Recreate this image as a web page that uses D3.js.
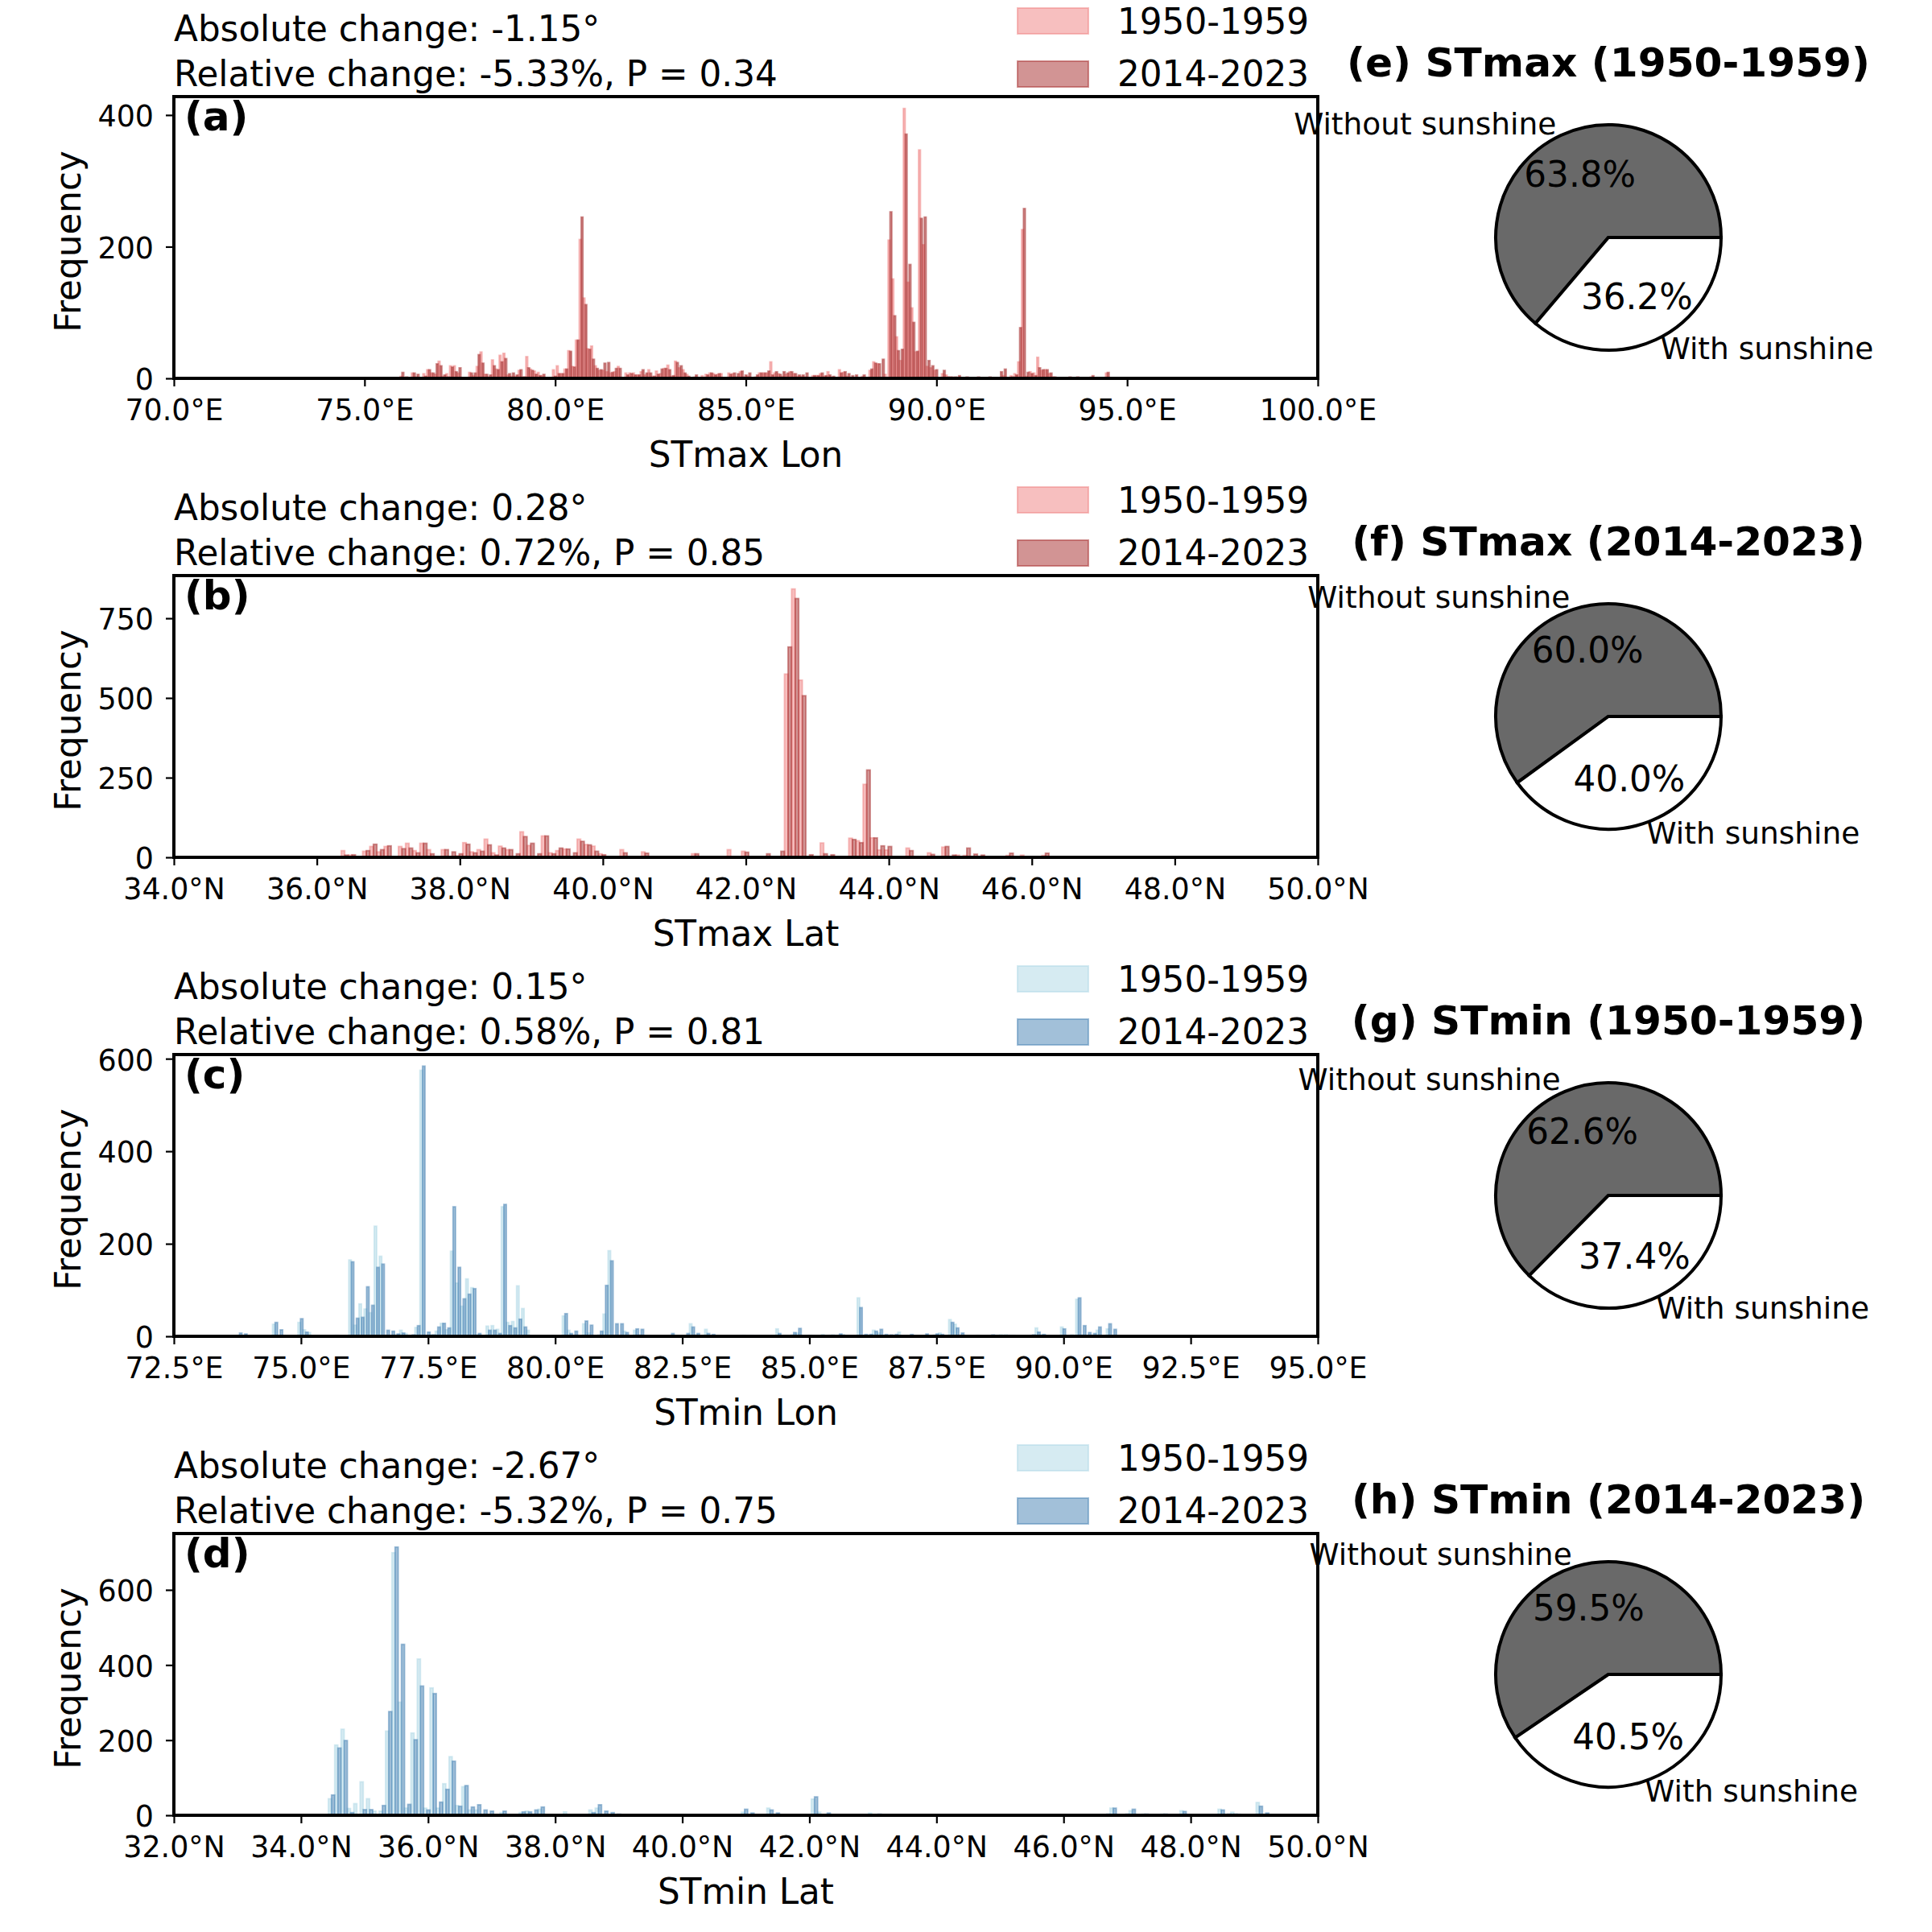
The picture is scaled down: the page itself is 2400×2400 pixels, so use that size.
<!DOCTYPE html>
<html>
<head>
<meta charset="utf-8">
<script src="https://cdn.jsdelivr.net/npm/d3@7"></script>
<style>
  html, body { margin: 0; padding: 0; background: #fff; }
  text { font-family: "DejaVu Sans"; fill: #000; }
</style>
</head>
<body>
<div id="chart"></div>
<script>
// histogram counts per 0.1 degree bin
const lonMaxStart = 75.93
const lonMax1950 = [3,0,0,8,2,0,7,13,8,6,26,3,7,19,19,8,0,0,9,4,18,40,6,2,28,14,35,38,5,3,3,12,2,33,14,11,9,4,1,0,
  13,19,7,14,42,18,58,211,122,45,49,19,12,12,10,8,10,18,0,8,8,8,5,10,5,13,3,11,7,15,20,3,26,16,13,6,0,2,0,4,
  6,8,7,6,7,0,8,7,2,10,2,3,0,2,8,8,8,25,8,7,3,6,10,7,3,3,2,0,4,4,7,3,10,2,0,13,9,3,0,0,0,3,0,12,25,22,0,6,210,151,
  63,27,410,146,107,40,347,203,18,16,12,0,7,5,2,0,0,0,0,0,0,0,0,0,0,0,0,0,4,0,4,7,25,226,3,10,8,32,12,13,
  7,2,0,0,0,0,0,0,0,0,0,2,0,0,0,8]
const lonMax2014 = [9,2,0,8,6,0,3,13,8,22,19,5,2,17,10,16,0,0,8,8,36,23,6,5,19,13,25,30,7,8,5,13,2,16,12,6,4,6,1,1,
  3,7,7,14,41,17,58,245,112,44,29,15,13,23,24,9,15,15,0,5,7,5,5,13,8,8,3,6,14,15,13,4,24,19,8,3,0,5,0,0,
  5,8,5,7,0,0,6,8,7,11,5,8,0,5,8,8,11,5,10,6,10,8,10,7,5,5,8,0,4,4,8,4,5,3,0,8,10,7,4,5,0,5,0,14,23,22,29,0,253,95,
  42,44,371,173,85,41,243,245,27,19,13,0,12,2,2,2,4,0,2,0,0,2,0,0,2,0,0,10,14,0,2,5,77,258,9,7,4,16,13,13,
  8,2,0,0,0,2,0,2,0,0,0,4,0,0,0,9]

const latMaxStart = 36.34
const latMax1950 = [21,7,2,19,34,17,34,0,34,44,21,44,24,0,24,2,5,46,17,24,57,14,35,24,3,80,37,2,67,14,21,26,2,57,40,35,11,0,0,24,
  0,2,17,0,0,2,0,0,0,11,0,0,0,0,24,0,19,0,0,2,0,0,575,842,556,2,0,45,2,0,0,60,52,229,61,23,23,0,2,29,
  2,0,14,0,32,2,7,6,0,0,0,0,0,6,0,7,0,0,6]
const latMax2014 = [7,8,2,21,41,24,36,0,27,29,14,44,11,0,24,17,11,41,14,19,39,7,29,24,11,65,44,11,67,11,29,26,14,50,39,19,8,0,0,14,
  0,2,13,0,0,0,0,0,0,11,0,0,0,0,0,0,16,0,0,11,0,19,660,812,507,8,0,11,8,0,0,56,46,274,61,36,34,0,0,21,
  0,2,9,0,34,7,0,29,10,7,0,0,0,13,0,0,0,0,13]

const lonMinStart = 73.74
const lonMin1950 = [
  2,0,0,0,0,0,0,26,2,2,
  0,0,30,14,8,0,0,0,0,2,
  0,0,165,24,70,59,51,238,173,2,
  2,3,13,6,0,19,575,2,3,11,
  28,14,184,115,65,124,105,3,0,22,
  23,15,280,30,32,109,60,13,0,0,
  0,0,2,0,44,13,2,0,27,7,
  0,3,48,185,2,2,11,0,13,3,
  0,0,0,0,0,2,0,0,0,27,
  3,0,15,0,0,0,0,0,0,2,
  0,2,0,0,0,2,16,0,0,3,
  7,0,2,2,0,4,2,3,2,4,
  0,0,83,2,2,13,7,2,0,0,
  9,0,0,0,0,2,0,3,7,0,
  36,26,0,0,0,0,0,0,0,2,
  3,3,2,0,0,0,2,18,3,0,
  0,0,20,0,3,80,3,0,0,13,
  0,16,1,1]
const lonMin2014 = [
  7,5,0,0,0,0,0,30,14,0,
  0,0,38,9,0,0,0,0,0,2,
  0,0,161,39,41,107,67,149,156,13,
  11,5,7,2,3,23,584,9,3,20,
  28,18,280,149,81,91,103,6,0,13,
  13,6,285,23,18,37,20,0,0,0,
  0,0,0,0,49,6,11,0,33,24,
  0,11,110,163,27,27,8,0,16,15,
  0,0,0,0,0,6,0,0,6,20,
  6,0,6,4,0,0,0,0,0,2,
  0,0,0,0,0,0,6,0,0,8,
  17,0,2,0,0,0,2,0,5,0,
  0,0,62,4,4,11,15,4,3,4,
  0,0,4,0,0,5,0,5,4,0,
  30,18,7,0,0,2,0,0,3,2,
  2,2,2,0,0,0,3,9,4,0,
  0,0,16,0,0,83,23,8,6,20,
  0,27,15,0]

const latMinStart = 34.43
const latMin1950 = [
  44,187,229,18,31,89,44,11,11,224,
  699,301,19,219,416,19,339,19,84,156,
  26,76,14,14,3,2,0,7,0,0,
  7,11,3,16,0,0,0,9,0,0,
  0,14,19,2,0,0,0,0,0,0,
  0,0,0,0,0,0,0,0,0,0,
  0,0,0,0,0,8,0,0,0,19,
  0,0,0,0,0,0,43,8,0,0,
  0,0,0,0,0,6,0,0,0,0,
  0,0,0,0,0,0,0,0,0,0,
  0,0,0,0,0,0,0,0,0,0,
  0,0,0,0,0,0,0,0,0,0,
  0,0,0,19,0,0,12,0,3,0,
  0,3,0,0,12,0,0,0,0,0,
  16,0,8,3,0,0,34,0]
const latMin2014 = [
  54,179,199,7,0,15,15,0,26,276,
  714,455,29,201,344,14,324,35,69,144,
  24,79,22,28,14,11,0,11,0,0,
  9,9,14,22,0,0,0,0,0,0,
  0,7,28,11,7,3,0,0,0,0,
  0,0,0,0,0,0,0,0,0,0,
  0,0,0,0,0,16,6,0,0,14,
  6,0,0,0,0,0,49,0,6,0,
  0,0,0,0,0,0,3,0,0,0,
  0,0,0,0,0,0,0,0,0,0,
  0,0,0,0,0,0,0,0,0,0,
  0,0,0,0,0,0,0,0,0,0,
  0,0,3,19,0,3,16,0,3,0,
  0,3,0,0,10,0,0,0,0,0,
  14,3,3,0,0,0,24,6]

const periods = ["1950-1959", "2014-2023"]
const pieLabels = ["Without sunshine", "With sunshine"]

// one row of the figure: histogram on the left, pie on the right
const rows = [
  {tag: "(a)", xlabel: "STmax Lon", dir: "E", start: lonMaxStart, v1: lonMax1950, v2: lonMax2014,
   xdom: [70, 100], xticks: d3.range(70, 101, 5), ymax: 428, yticks: [0, 200, 400],
   abs: "Absolute change: -1.15°", rel: "Relative change: -5.33%, P = 0.34",
   colors: ["lightcoral", "brown"], title: "(e) STmax (1950-1959)", pie: [63.8, 36.2]},
  {tag: "(b)", xlabel: "STmax Lat", dir: "N", start: latMaxStart, v1: latMax1950, v2: latMax2014,
   xdom: [34, 50], xticks: d3.range(34, 51, 2), ymax: 884, yticks: [0, 250, 500, 750],
   abs: "Absolute change: 0.28°", rel: "Relative change: 0.72%, P = 0.85",
   colors: ["lightcoral", "brown"], title: "(f) STmax (2014-2023)", pie: [60.0, 40.0]},
  {tag: "(c)", xlabel: "STmin Lon", dir: "E", start: lonMinStart, v1: lonMin1950, v2: lonMin2014,
   xdom: [72.5, 95], xticks: d3.range(72.5, 95.1, 2.5), ymax: 609, yticks: [0, 200, 400, 600],
   abs: "Absolute change: 0.15°", rel: "Relative change: 0.58%, P = 0.81",
   colors: ["lightblue", "steelblue"], title: "(g) STmin (1950-1959)", pie: [62.6, 37.4]},
  {tag: "(d)", xlabel: "STmin Lat", dir: "N", start: latMinStart, v1: latMin1950, v2: latMin2014,
   xdom: [32, 50], xticks: d3.range(32, 51, 2), ymax: 750, yticks: [0, 200, 400, 600],
   abs: "Absolute change: -2.67°", rel: "Relative change: -5.32%, P = 0.75",
   colors: ["lightblue", "steelblue"], title: "(h) STmin (2014-2023)", pie: [59.5, 40.5]}
]

const left = 216, right = 1637, plotH = 350, rowStep = 595, firstTop = 120
const binW = 0.1
const tickFont = 36.4, labelFont = 43.7

const svg = d3.select("#chart").append("svg")
    .attr("width", 2400)
    .attr("height", 2400)
    .style("display", "block")

function drawHist(row, top) {
    const g = svg.append("g").attr("transform", `translate(0,${top})`)
    const xScale = d3.scaleLinear().domain(row.xdom).range([left, right])
    const yScale = d3.scaleLinear().domain([0, row.ymax]).range([plotH, 0])

    // two dodged series inside each bin
    ;[row.v1, row.v2].forEach(function (vals, s) {
        g.append("g").selectAll("rect")
            .data(vals.map((v, i) => ({v: v, i: i})).filter(d => d.v > 0))
            .enter()
            .append("rect")
            .attr("x", d => xScale(row.start + (d.i + s / 2) * binW))
            .attr("y", d => yScale(d.v))
            .attr("width", d => xScale(row.start + (d.i + (s + 1) / 2) * binW) - xScale(row.start + (d.i + s / 2) * binW))
            .attr("height", d => plotH - yScale(d.v))
            .attr("fill", row.colors[s])
            .attr("stroke", row.colors[s])
            .attr("stroke-width", 1.8)
            .attr("fill-opacity", 0.5)
            .attr("stroke-opacity", 0.5)
    })

    const xAxis = g.append("g")
        .attr("transform", `translate(0,${plotH})`)
        .call(d3.axisBottom(xScale)
            .tickValues(row.xticks)
            .tickFormat(d => d3.format(".1f")(d) + "°" + row.dir)
            .tickSize(10).tickPadding(16))
    const yAxis = g.append("g")
        .attr("transform", `translate(${left},0)`)
        .call(d3.axisLeft(yScale)
            .tickValues(row.yticks)
            .tickFormat(d3.format("d"))
            .tickSize(10).tickPadding(15))
    yAxis.selectAll("text").attr("dy", "0.38em")
    ;[xAxis, yAxis].forEach(function (a) {
        a.select(".domain").remove()
        a.selectAll("line").attr("stroke", "#000").attr("stroke-width", 2.2)
        a.selectAll("text").attr("font-size", tickFont).attr("font-family", "DejaVu Sans").attr("fill", "#000")
    })

    // frame on top of the bars
    g.append("rect")
        .attr("x", left).attr("y", 0)
        .attr("width", right - left).attr("height", plotH)
        .attr("fill", "none").attr("stroke", "#000").attr("stroke-width", 4)

    g.append("text")
        .attr("x", (left + right) / 2).attr("y", plotH + 110)
        .attr("text-anchor", "middle").attr("font-size", labelFont)
        .text(row.xlabel)
    g.append("text")
        .attr("transform", `translate(100,${plotH / 2 + 5})rotate(-90)`)
        .attr("text-anchor", "middle").attr("font-size", labelFont)
        .text("Frequency")
    g.append("text")
        .attr("x", 229).attr("y", 42)
        .attr("font-size", 50).attr("font-weight", "bold")
        .text(row.tag)

    g.append("text").attr("x", left).attr("y", -69.5).attr("font-size", labelFont).text(row.abs)
    g.append("text").attr("x", left).attr("y", -13.5).attr("font-size", labelFont).text(row.rel)

    // legend, no frame
    periods.forEach(function (p, s) {
        g.append("rect")
            .attr("x", 1264).attr("y", s === 0 ? -110 : -44)
            .attr("width", 88).attr("height", 32)
            .attr("fill", row.colors[s]).attr("stroke", row.colors[s])
            .attr("stroke-width", 2)
            .attr("fill-opacity", 0.5).attr("stroke-opacity", 0.5)
        g.append("text")
            .attr("x", 1388).attr("y", s === 0 ? -78.5 : -13.5)
            .attr("font-size", labelFont)
            .text(p)
    })
}

function drawPie(row, top) {
    const r = 140
    const cx = 1998, cy = top + plotH / 2
    const g = svg.append("g").attr("transform", `translate(${cx},${cy})`)

    // matplotlib style: starts at 3 o'clock and runs counter clockwise
    const pie = d3.pie().sort(null).startAngle(Math.PI / 2).endAngle(Math.PI / 2 - 2 * Math.PI)
    const arcs = pie(row.pie)
    const arc = d3.arc().innerRadius(0).outerRadius(r)
    const labelArc = d3.arc().innerRadius(r * 1.1).outerRadius(r * 1.1)
    const pctArc = d3.arc().innerRadius(r * 0.6).outerRadius(r * 0.6)

    g.selectAll("path")
        .data(arcs)
        .enter()
        .append("path")
        .attr("d", arc)
        .attr("fill", (d, i) => i === 0 ? "#696969" : "#fff")
        .attr("stroke", "#000")
        .attr("stroke-width", 4)

    arcs.forEach(function (d, i) {
        const p = labelArc.centroid(d)
        g.append("text")
            .attr("x", p[0]).attr("y", p[1])
            .attr("dy", "0.3em")
            .attr("text-anchor", p[0] < 0 ? "end" : "start")
            .attr("font-size", 37.5)
            .text(pieLabels[i])
        const q = pctArc.centroid(d)
        g.append("text")
            .attr("x", q[0]).attr("y", q[1])
            .attr("dy", "0.3em")
            .attr("text-anchor", "middle")
            .attr("font-size", labelFont)
            .text(d3.format(".1f")(d.data) + "%")
    })

    svg.append("text")
        .attr("x", cx).attr("y", top - 25)
        .attr("text-anchor", "middle")
        .attr("font-size", 50.2).attr("font-weight", "bold")
        .text(row.title)
}

rows.forEach(function (row, i) {
    const top = firstTop + i * rowStep
    drawHist(row, top)
    drawPie(row, top)
})
</script>
</body>
</html>
